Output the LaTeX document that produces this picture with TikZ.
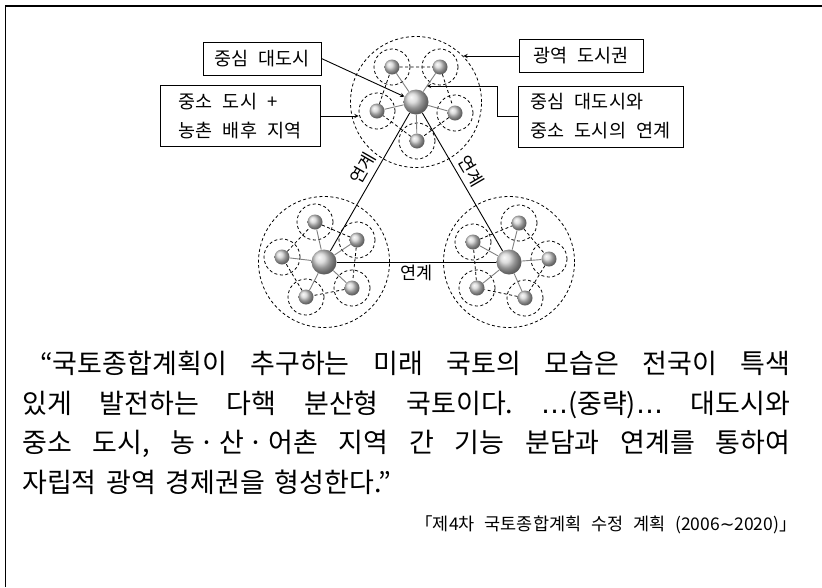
\documentclass[tikz,border=0pt]{standalone}
\usepackage{fontspec}
\setmainfont{Noto Sans CJK KR}[WordSpace=2.5]
\newfontfamily\quotefont{Noto Sans CJK KR}[WordSpace=1.6]
\newfontfamily\symbolfont{DejaVu Sans}
\usetikzlibrary{arrows, positioning}
\tikzstyle{infobox} = [rectangle, draw=black, line width=0.9pt, inner xsep=6pt, inner ysep=4pt, minimum height=33pt, align=left, font=\fontsize{18.5}{29}\selectfont]
\tikzstyle{metro} = [circle, shading=ball, ball color=gray!35, minimum size=25pt, inner sep=0pt]
\tikzstyle{town} = [circle, shading=ball, ball color=gray!35, minimum size=15pt, inner sep=0pt]
\tikzstyle{ring} = [circle, draw=black, line width=0.8pt, dash pattern=on 3pt off 2.5pt, minimum size=36pt, inner sep=0pt]
\tikzstyle{region} = [circle, draw=black, line width=0.8pt, dash pattern=on 3pt off 2.5pt, minimum size=131pt, inner sep=0pt]
\tikzstyle{tie} = [draw=gray, line width=0.9pt]
\tikzstyle{dashlink} = [draw=black, line width=0.8pt, dash pattern=on 3pt off 2.5pt]
\tikzstyle{link} = [draw=black, line width=0.9pt]
\tikzstyle{arrow} = [line width=0.9pt, ->, >=stealth]
\tikzstyle{linklabel} = [font=\fontsize{17.5}{20}\selectfont, inner sep=5pt]

\begin{document}
\frenchspacing
\begin{tikzpicture}[x=1pt, y=-1pt]
		\useasboundingbox (0,0) rectangle (822,587);
		\draw[line width=1.6pt] (5.5,587) |- (822,6);

		% top cluster
		\node [region] (regA) at (416,102) {};
		\node [ring] (a1r) at (392,67) {};	\node [town] (a1) at (a1r) {};
		\node [ring] (a2r) at (440,67) {};	\node [town] (a2) at (a2r) {};
		\node [ring] (a3r) at (455,113) {};	\node [town] (a3) at (a3r) {};
		\node [ring] (a4r) at (417,141) {};	\node [town] (a4) at (a4r) {};
		\node [ring] (a5r) at (377,111) {};	\node [town] (a5) at (a5r) {};
		\node [metro] (metroA) at (416,102) {};

		% bottom left cluster
		\node [region] (regB) at (324,262) {};
		\node [ring] (b1r) at (315,222) {};	\node [town] (b1) at (b1r) {};
		\node [ring] (b2r) at (357,240) {};	\node [town] (b2) at (b2r) {};
		\node [ring] (b3r) at (352,288) {};	\node [town] (b3) at (b3r) {};
		\node [ring] (b4r) at (306,297) {};	\node [town] (b4) at (b4r) {};
		\node [ring] (b5r) at (282,257) {};	\node [town] (b5) at (b5r) {};
		\node [metro] (metroB) at (324,262) {};

		% bottom right cluster
		\node [region] (regC) at (509,262) {};
		\node [ring] (c1r) at (519,223) {};	\node [town] (c1) at (c1r) {};
		\node [ring] (c2r) at (549,259) {};	\node [town] (c2) at (c2r) {};
		\node [ring] (c3r) at (525,298) {};	\node [town] (c3) at (c3r) {};
		\node [ring] (c4r) at (477,288) {};	\node [town] (c4) at (c4r) {};
		\node [ring] (c5r) at (473,242) {};	\node [town] (c5) at (c5r) {};
		\node [metro] (metroC) at (509,262) {};

		\draw [dashlink] (a1)--(a2)--(a3)--(a4)--(a5)--(a1);
		\draw [dashlink] (b1)--(b2)--(b3)--(b4)--(b5)--(b1);
		\draw [dashlink] (c1)--(c2)--(c3)--(c4)--(c5)--(c1);
		\draw [tie] (metroA)--(a1) (metroA)--(a3) (metroA)--(a4) (metroA)--(a5);
		\draw [tie] (metroA)--coordinate[pos=0.3] (tieA) (a2);
		\draw [tie] (metroB)--(b1) (metroB)--(b2) (metroB)--(b3) (metroB)--(b4) (metroB)--(b5);
		\draw [tie] (metroC)--(c1) (metroC)--(c2) (metroC)--(c3) (metroC)--(c4) (metroC)--(c5);

		\draw [link] (metroB)--node[linklabel, pos=0.55, above, sloped]{연계}	(metroA);
		\draw [link] (metroA)--node[linklabel, pos=0.47, above, sloped]{연계}	(metroC);
		\draw [link] (metroB)--node[linklabel, below, inner sep=3pt]{연계}	(metroC);

		% labels
		\node [infobox, minimum width=118pt] (core) at (262,58.5) {중심 대도시};
		\node [infobox, minimum width=160pt, minimum height=61pt] (small) at (240,116) {중소 도시 +\\농촌 배후 지역};
		\node [infobox, minimum width=124pt] (wide) at (581,56) {광역 도시권};
		\node [infobox, minimum width=165pt, minimum height=61pt] (tie) at (600.5,116.5) {중심 대도시와\\중소 도시의 연계};

		\draw [arrow] (core.east) -- (metroA);
		\draw [arrow] (small.east) -- (small.east -| a5r.west);
		\draw [arrow] (wide.west) -- (wide.west -| regA.44);
		\draw [arrow] (tie.west) -- ++(-20,0) |- (tieA);

		% quotation
		\node [anchor=north west, text width=768pt, align=justify, inner sep=0pt, font=\quotefont\fontsize{27}{39.5}\selectfont\frenchspacing] (quote) at (22,351)
			{\hspace*{18pt}“국토종합계획이 추구하는 미래 국토의 모습은 전국이 특색\linebreak
			있게 발전하는 다핵 분산형 국토이다. {\symbolfont …}(중략){\symbolfont …} 대도시와\linebreak
			중소 도시, 농\,·\,산\,·\,어촌 지역 간 기능 분담과 연계를 통하여\linebreak
			자립적 광역 경제권을 형성한다.”};
		\node [anchor=east, inner sep=0pt, font=\fontsize{17.5}{20}\selectfont] (source) at (797,525) {「제4차 국토종합계획 수정 계획 (2006{\symbolfont ∼}2020)」};
\end{tikzpicture}
\end{document}
